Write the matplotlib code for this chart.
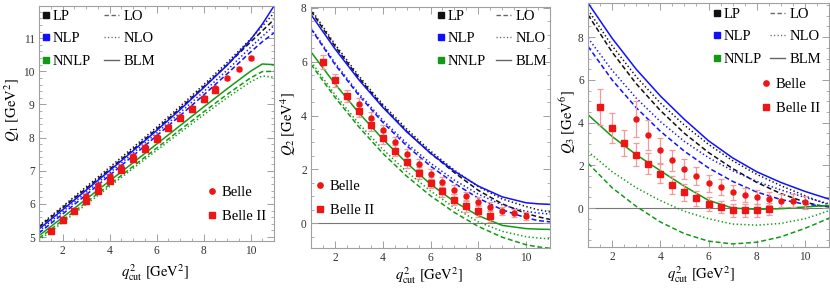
import matplotlib
matplotlib.use("Agg")
import matplotlib.pyplot as plt
from matplotlib.lines import Line2D
from matplotlib.ticker import MultipleLocator

plt.rcParams['font.family'] = ['Liberation Serif', 'DejaVu Serif']
plt.rcParams['mathtext.fontset'] = 'stix'

# ---- data ----
q2 = [1, 2, 3, 4, 5, 6, 7, 8, 9, 10, 10.5, 11]
belle_q2 = [3.0, 3.5, 4.0, 4.5, 5.0, 5.5, 6.0, 6.5, 7.0, 7.5, 8.0, 8.5, 9.0, 9.5, 10.0]
belle2_q2 = [1.5, 2.0, 2.5, 3.0, 3.5, 4.0, 4.5, 5.0, 5.5, 6.0, 6.5, 7.0, 7.5, 8.0, 8.5]

# Q1
q1_lp_lo = [5.30, 5.88, 6.46, 7.04, 7.64, 8.25, 8.88, 9.53, 10.19, 10.88, 11.22, 11.56]
q1_lp_nlo = [5.34, 5.92, 6.51, 7.10, 7.70, 8.31, 8.94, 9.59, 10.26, 10.97, 11.36, 11.76]
q1_nlp_lo = [5.12, 5.69, 6.27, 6.86, 7.45, 8.05, 8.66, 9.28, 9.92, 10.58, 10.89, 11.16]
q1_nlp_nlo = [5.18, 5.76, 6.34, 6.93, 7.53, 8.13, 8.75, 9.38, 10.03, 10.72, 11.05, 11.38]
q1_nlp_blm = [5.24, 5.82, 6.41, 7.00, 7.60, 8.21, 8.84, 9.50, 10.18, 10.95, 11.42, 11.97]
q1_nnlp_lo = [4.96, 5.50, 6.04, 6.58, 7.13, 7.68, 8.23, 8.77, 9.30, 9.80, 9.99, 10.00]
q1_nnlp_nlo = [4.90, 5.44, 5.98, 6.52, 7.07, 7.61, 8.15, 8.68, 9.20, 9.68, 9.86, 9.82]
q1_nnlp_blm = [5.04, 5.59, 6.14, 6.69, 7.24, 7.80, 8.36, 8.92, 9.47, 10.00, 10.22, 10.20]
q1_belle = [6.25, 6.57, 6.85, 7.12, 7.43, 7.73, 8.03, 8.32, 8.62, 8.90, 9.18, 9.50, 9.80, 10.08, 10.40]
q1_belle_err = [0.06] * 15
q1_belle2 = [5.19, 5.50, 5.80, 6.08, 6.39, 6.70, 7.03, 7.35, 7.66, 7.96, 8.28, 8.58, 8.85, 9.16, 9.44]
q1_belle2_err = [0.08] * 15

# Q2
q2_lp_lo = [7.88, 6.58, 5.40, 4.35, 3.42, 2.60, 1.88, 1.22, 0.72, 0.36, 0.24, 0.14]
q2_lp_nlo = [7.95, 6.65, 5.47, 4.42, 3.50, 2.68, 1.97, 1.36, 0.90, 0.62, 0.50, 0.42]
q2_nlp_lo = [7.22, 5.90, 4.75, 3.75, 2.88, 2.12, 1.48, 0.93, 0.50, 0.20, 0.10, 0.05]
q2_nlp_nlo = [7.26, 5.96, 4.82, 3.83, 2.97, 2.23, 1.60, 1.08, 0.68, 0.44, 0.38, 0.34]
q2_nlp_blm = [7.75, 6.48, 5.33, 4.31, 3.40, 2.60, 1.93, 1.38, 0.98, 0.76, 0.72, 0.70]
q2_nnlp_lo = [5.90, 4.68, 3.58, 2.60, 1.75, 1.02, 0.40, -0.12, -0.52, -0.80, -0.88, -0.93]
q2_nnlp_nlo = [6.00, 4.78, 3.70, 2.75, 1.92, 1.20, 0.58, 0.05, -0.30, -0.50, -0.55, -0.58]
q2_nnlp_blm = [6.36, 5.18, 4.10, 3.13, 2.24, 1.45, 0.80, 0.28, -0.08, -0.20, -0.22, -0.23]
q2_belle = [4.44, 3.92, 3.45, 3.00, 2.57, 2.20, 1.83, 1.53, 1.24, 1.00, 0.80, 0.61, 0.44, 0.37, 0.28]
q2_belle_err = [0.2, 0.2, 0.2, 0.2, 0.19, 0.18, 0.18, 0.17, 0.17, 0.16, 0.16, 0.16, 0.15, 0.15, 0.15]
q2_belle2 = [5.99, 5.31, 4.73, 4.16, 3.65, 3.15, 2.70, 2.27, 1.88, 1.51, 1.19, 0.88, 0.65, 0.44, 0.27]
q2_belle2_err = [0.25, 0.24, 0.23, 0.23, 0.22, 0.22, 0.22, 0.22, 0.22, 0.22, 0.22, 0.22, 0.22, 0.22, 0.22]

# Q3
q3_lp_lo = [9.05, 7.30, 5.82, 4.57, 3.50, 2.60, 1.85, 1.20, 0.68, 0.28, 0.14, 0.05]
q3_lp_nlo = [9.28, 7.60, 6.15, 4.92, 3.88, 2.98, 2.22, 1.58, 1.05, 0.58, 0.35, 0.15]
q3_nlp_lo = [7.57, 6.00, 4.70, 3.60, 2.66, 1.88, 1.25, 0.75, 0.40, 0.18, 0.12, 0.08]
q3_nlp_nlo = [7.96, 6.45, 5.15, 4.05, 3.12, 2.36, 1.75, 1.25, 0.85, 0.50, 0.35, 0.20]
q3_nlp_blm = [9.60, 7.95, 6.50, 5.25, 4.15, 3.15, 2.35, 1.70, 1.20, 0.78, 0.60, 0.42]
q3_nnlp_lo = [2.10, 0.95, 0.08, -0.65, -1.20, -1.55, -1.68, -1.60, -1.35, -0.95, -0.72, -0.47]
q3_nnlp_nlo = [2.65, 1.70, 0.95, 0.35, -0.15, -0.50, -0.75, -0.80, -0.72, -0.50, -0.32, -0.12]
q3_nnlp_blm = [4.37, 3.35, 2.50, 1.75, 1.02, 0.36, 0.00, -0.06, -0.03, 0.05, 0.09, 0.12]
q3_belle = [4.17, 3.40, 2.70, 2.23, 1.83, 1.51, 1.17, 0.97, 0.73, 0.59, 0.51, 0.44, 0.34, 0.34, 0.27]
q3_belle_err = [0.85, 0.70, 0.58, 0.50, 0.45, 0.42, 0.40, 0.38, 0.35, 0.33, 0.32, 0.30, 0.30, 0.30, 0.30]
q3_belle2 = [4.73, 3.75, 3.05, 2.50, 2.08, 1.60, 1.08, 0.73, 0.45, 0.18, 0.05, -0.10, -0.10, -0.10, -0.05]
q3_belle2_err = [0.85, 0.70, 0.60, 0.55, 0.50, 0.45, 0.40, 0.38, 0.35, 0.33, 0.30, 0.30, 0.30, 0.30, 0.28]

BLACK = '#111111'
BLUE = '#1010ff'
GREEN = '#139a13'
RED = '#ee1515'
ERR = '#f49a9a'
FRAME = '#a0a0a0'

W, H = 830, 289
fig = plt.figure(figsize=(W / 100, H / 100), dpi=100)


def fpos(px, py):
    return px / W, 1 - py / H


def axes_box(left, top, right, bottom):
    return [left / W, 1 - bottom / H, (right - left) / W, (bottom - top) / H]


dash = (0, (3.2, 1.8))
dot = (0, (0.9, 1.6))

panels = [
    dict(box=axes_box(39, 6, 274, 241), ylim=(4.88, 11.97), ymaj=1, ymin=0.2,
         curves=[(q1_lp_lo, BLACK, dash), (q1_lp_nlo, BLACK, dot),
                 (q1_nlp_lo, BLUE, dash), (q1_nlp_nlo, BLUE, dot), (q1_nlp_blm, BLUE, '-'),
                 (q1_nnlp_lo, GREEN, dash), (q1_nnlp_nlo, GREEN, dot), (q1_nnlp_blm, GREEN, '-')],
         belle=(q1_belle, q1_belle_err), belle2=(q1_belle2, q1_belle2_err), zero=False,
         ylabel=r'$Q_1\ [\mathrm{GeV}^2]$', ylab_pos=(12, 110), xlab_pos=(155, 273),
         legA=(43, 10), legB=(104, 10), legC=(208, 186)),
    dict(box=axes_box(311, 7, 550, 248), ylim=(-0.92, 8.03), ymaj=2, ymin=0.5,
         curves=[(q2_lp_lo, BLACK, dash), (q2_lp_nlo, BLACK, dot),
                 (q2_nlp_lo, BLUE, dash), (q2_nlp_nlo, BLUE, dot), (q2_nlp_blm, BLUE, '-'),
                 (q2_nnlp_lo, GREEN, dash), (q2_nnlp_nlo, GREEN, dot), (q2_nnlp_blm, GREEN, '-')],
         belle=(q2_belle, q2_belle_err), belle2=(q2_belle2, q2_belle2_err), zero=True,
         ylabel=r'$Q_2\ [\mathrm{GeV}^4]$', ylab_pos=(288, 124), xlab_pos=(429, 276),
         legA=(438, 10), legB=(496, 10), legC=(316, 180)),
    dict(box=axes_box(588, 3, 829, 246.5), ylim=(-1.8, 9.6), ymaj=2, ymin=0.5,
         curves=[(q3_lp_lo, BLACK, dash), (q3_lp_nlo, BLACK, dot),
                 (q3_nlp_lo, BLUE, dash), (q3_nlp_nlo, BLUE, dot), (q3_nlp_blm, BLUE, '-'),
                 (q3_nnlp_lo, GREEN, dash), (q3_nnlp_nlo, GREEN, dot), (q3_nnlp_blm, GREEN, '-')],
         belle=(q3_belle, q3_belle_err), belle2=(q3_belle2, q3_belle2_err), zero=True,
         ylabel=r'$Q_3\ [\mathrm{GeV}^6]$', ylab_pos=(568, 122), xlab_pos=(701, 275),
         legA=(714, 8), legB=(770, 8), legC=(762, 78)),
]

for p in panels:
    ax = fig.add_axes(p['box'])
    if p['zero']:
        ax.axhline(0, color='#777777', lw=0.8, zorder=1)
    for ys, col, ls in p['curves']:
        ax.plot(q2, ys, color=col, linestyle=ls, lw=1.1, zorder=2)
    ys, err = p['belle']
    ax.errorbar(belle_q2, ys, yerr=err, fmt='o', ms=3.6, color=RED, ecolor=ERR,
                elinewidth=0.9, capsize=2.2, capthick=0.9, zorder=4)
    ys, err = p['belle2']
    ax.errorbar(belle2_q2, ys, yerr=err, fmt='s', ms=4.6, color=RED, ecolor=ERR,
                elinewidth=0.9, capsize=2.2, capthick=0.9, zorder=4)

    ax.set_xlim(1, 11)
    ax.set_ylim(*p['ylim'])
    ax.xaxis.set_major_locator(MultipleLocator(2))
    ax.xaxis.set_minor_locator(MultipleLocator(0.5))
    ax.yaxis.set_major_locator(MultipleLocator(p['ymaj']))
    ax.yaxis.set_minor_locator(MultipleLocator(p['ymin']))
    ax.tick_params(which='both', direction='in', top=True, right=True, color=FRAME,
                   labelsize=8.3, labelcolor='#333333', pad=3)
    ax.tick_params(which='major', length=5, width=0.7)
    ax.tick_params(which='minor', length=2.5, width=0.6)
    for s in ax.spines.values():
        s.set_color(FRAME)
        s.set_linewidth(0.8)

    fig.text(*fpos(*p['ylab_pos']), p['ylabel'], rotation=90, ha='center', va='center',
             fontsize=10.5)
    fig.text(*fpos(*p['xlab_pos']), r'$q^2_{\mathrm{cut}}\ [\mathrm{GeV}^2]$',
             ha='center', va='center', fontsize=10.5)

    sq = [Line2D([], [], ls='none', marker='s', ms=5, color=c) for c in (BLACK, BLUE, GREEN)]
    legA = ax.legend(sq, ['LP', 'NLP', 'NNLP'], loc='upper left',
                     bbox_to_anchor=fpos(*p['legA']), bbox_transform=fig.transFigure,
                     frameon=False, fontsize=10.5, handlelength=0.45, handletextpad=0.2,
                     labelspacing=0.62, borderpad=0, borderaxespad=0)
    ax.add_artist(legA)
    ln = [Line2D([], [], color='#666666', lw=1.0, ls=s) for s in (dash, dot, '-')]
    legB = ax.legend(ln, ['LO', 'NLO', 'BLM'], loc='upper left',
                     bbox_to_anchor=fpos(*p['legB']), bbox_transform=fig.transFigure,
                     frameon=False, fontsize=10.5, handlelength=1.05, handletextpad=0.3,
                     labelspacing=0.62, borderpad=0, borderaxespad=0)
    ax.add_artist(legB)
    ex = [Line2D([], [], ls='none', marker='o', ms=3.8, color=RED),
          Line2D([], [], ls='none', marker='s', ms=5, color=RED)]
    ax.legend(ex, ['Belle', 'Belle II'], loc='upper left',
              bbox_to_anchor=fpos(*p['legC']), bbox_transform=fig.transFigure,
              frameon=False, fontsize=10.5, handlelength=0.6, handletextpad=0.35,
              labelspacing=0.7, borderpad=0, borderaxespad=0)

fig.savefig('out.png', dpi=100)
